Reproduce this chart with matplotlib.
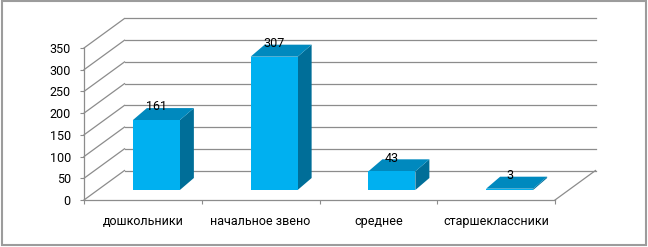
import matplotlib
matplotlib.use("Agg")
import matplotlib.pyplot as plt
from matplotlib.patches import Polygon, Rectangle

categories = ["дошкольники", "начальное звено", "среднее", "старшеклассники"]
values = [161, 307, 43, 3]
yticks = [0, 50, 100, 150, 200, 250, 300, 350]

FRONT = "#00B0F0"
TOP = "#0089BE"
SIDE = "#006E98"
GRID = "#8C8C8C"
FONT = ["Roboto", "DejaVu Sans"]
FS = 9

W, H, DPI = 648, 247, 100
fig = plt.figure(figsize=(W / DPI, H / DPI), dpi=DPI)
ax = fig.add_axes([84 / W, (H - 200) / H, (555 - 84) / W, (200 - 48) / H])
ax.set_xlim(-0.5, len(categories) - 0.5)
ax.set_ylim(0, 350)
for s in ax.spines.values():
    s.set_visible(False)

# oblique projection offsets in data units
xpx = (555 - 84) / len(categories)
ypx = (200 - 48) / 350
wdx, wdy = 40.5 / xpx, 29.5 / ypx        # wall depth
b0x, b0y = 13.5 / xpx, 10 / ypx          # bar front offset
bdx, bdy = 14 / xpx, 12 / ypx            # bar depth
hw = 23.5 / xpx                          # bar half width

x0, x1 = -0.5, len(categories) - 0.5
# back wall gridlines and left wall diagonals
for v in yticks:
    ax.plot([x0 + wdx, x1 + wdx], [v + wdy, v + wdy], color=GRID, lw=0.9, clip_on=False, zorder=1)
    ax.plot([x0, x0 + wdx], [v, v + wdy], color=GRID, lw=0.9, clip_on=False, zorder=1)
ax.plot([x1, x1 + wdx], [0, wdy], color=GRID, lw=0.9, clip_on=False, zorder=1)
# axes lines
ax.plot([x0, x1], [0, 0], color=GRID, lw=0.9, clip_on=False, zorder=1)
ax.plot([x0, x0], [0, 350], color=GRID, lw=0.9, clip_on=False, zorder=1)

for i, v in enumerate(values):
    l = i - hw + b0x
    r = i + hw + b0x
    b = b0y
    t = v + b0y
    side = Polygon([(r, b), (r + bdx, b + bdy), (r + bdx, t + bdy), (r, t)],
                   closed=True, facecolor=SIDE, edgecolor="none", clip_on=False, zorder=2)
    top = Polygon([(l, t), (r, t), (r + bdx, t + bdy), (l + bdx, t + bdy)],
                  closed=True, facecolor=TOP, edgecolor="none", clip_on=False, zorder=2)
    front = Rectangle((l, b), r - l, t - b, facecolor=FRONT, edgecolor="none", clip_on=False, zorder=3)
    for p in (side, top, front):
        ax.add_patch(p)
    ax.text(i + b0x, t + bdy + 3, str(v), ha="center", va="center",
            fontsize=FS, family=FONT, color="#000000", zorder=5, clip_on=False)

ax.set_yticks(yticks)
ax.set_yticklabels([str(v) for v in yticks], family=FONT, fontsize=FS)
ax.tick_params(axis="y", length=3, width=0.8, color=GRID, pad=6.5, labelcolor="#000000")
ax.set_xticks([k - 0.5 for k in range(len(categories) + 1)])
ax.set_xticklabels([])
ax.tick_params(axis="x", which="major", length=3, width=0.8, color=GRID, direction="out")
ax.set_xticks(list(range(len(categories))), minor=True)
ax.set_xticklabels(categories, minor=True, family=FONT, fontsize=FS)
ax.tick_params(axis="x", which="minor", length=0, pad=11, labelcolor="#000000")

fig.patches.append(Rectangle((1.5 / W, 2 / H), (646 - 1.5) / W, (245.5 - 2) / H,
                             transform=fig.transFigure, fill=False, edgecolor="#9C9C9C", lw=1.5))

fig.savefig("out.png", dpi=DPI)
